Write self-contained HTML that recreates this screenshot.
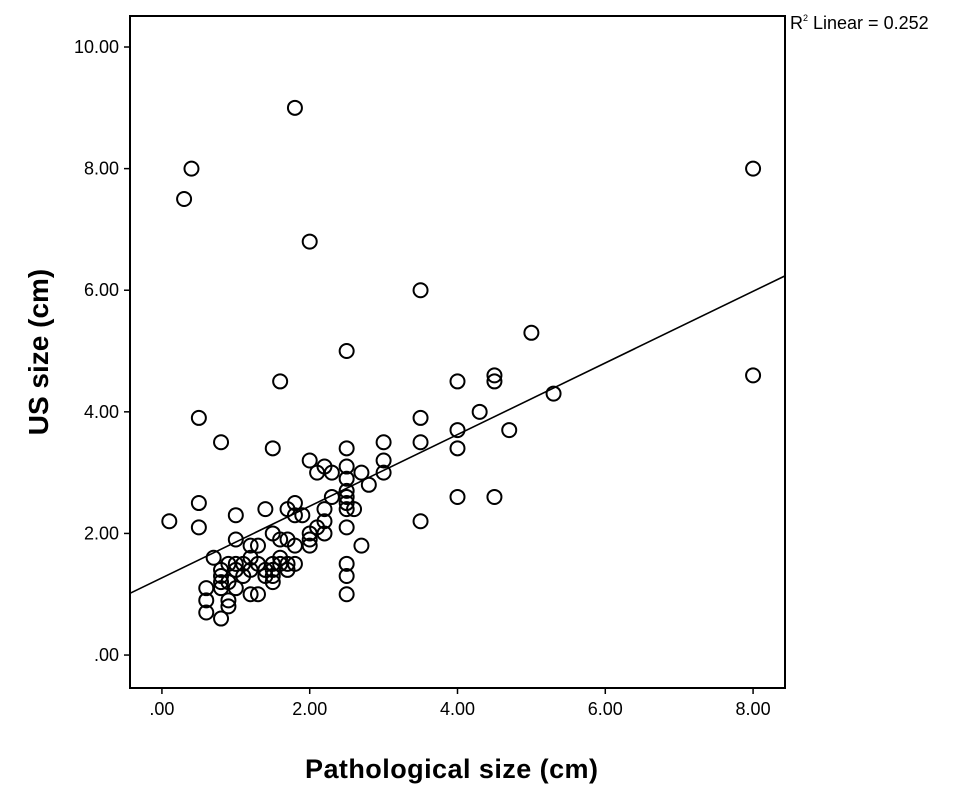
<!DOCTYPE html>
<html><head><meta charset="utf-8"><style>
body{margin:0;background:#fff}
svg{display:block;font-family:"Liberation Sans",Arial,sans-serif}
</style></head><body>
<svg id="chart" width="969" height="795" viewBox="0 0 969 795">
<rect x="130" y="16" width="655" height="672" fill="#fff" stroke="#000" stroke-width="2"/>
<g id="axes"></g><g id="fit"></g><g id="pts"></g>
<text x="305" y="778" font-size="27" font-weight="bold" textLength="293">Pathological size (cm)</text>
<text transform="translate(48,352) rotate(-90)" text-anchor="middle" font-size="28" font-weight="bold">US size (cm)</text>
<text x="790" y="29" font-size="18">R<tspan font-size="9" dy="-8">2</tspan><tspan dy="8"> Linear = 0.252</tspan></text>
</svg>
<script>
const xTicks=[0,2,4,6,8];
const xTickLabels=[".00","2.00","4.00","6.00","8.00"];
const yTicks=[0,2,4,6,8,10];
const yTickLabels=[".00","2.00","4.00","6.00","8.00","10.00"];
const pathSize=[0.1,0.3,0.4,0.5,0.5,0.5,0.8,1.8,2.0,3.5,2.5,1.6,1.5,5.0,4.5,4.5,4.0,5.3,4.3,4.7,4.0,4.0,3.5,3.5,3.0,3.0,3.0,2.5,2.5,2.5,2.5,2.5,2.5,2.5,2.5,2.5,2.5,2.5,2.7,2.8,2.7,2.6,2.3,2.2,2.0,2.1,2.3,2.2,2.2,2.1,2.0,2.0,2.0,2.2,1.8,1.8,1.7,1.9,1.4,1.0,1.0,1.5,1.6,1.7,1.8,1.8,1.7,1.6,1.5,1.5,1.5,1.5,1.4,1.3,1.2,1.3,1.2,1.1,1.0,0.9,0.8,0.8,0.7,0.9,1.0,1.1,1.2,1.3,0.9,0.9,0.8,0.6,0.6,0.6,0.8,3.5,4.0,4.5,8.0,8.0,1.4,1.6,1.0,0.8,1.7,1.2];
const usSize=[2.2,7.5,8.0,3.9,2.5,2.1,3.5,9.0,6.8,6.0,5.0,4.5,3.4,5.3,4.6,4.5,4.5,4.3,4.0,3.7,3.7,3.4,3.9,3.5,3.5,3.2,3.0,3.4,3.1,2.9,2.7,2.6,2.5,2.4,2.1,1.5,1.3,1.0,1.8,2.8,3.0,2.4,3.0,3.1,3.2,3.0,2.6,2.4,2.2,2.1,2.0,1.9,1.8,2.0,2.5,2.3,2.4,2.3,2.4,2.3,1.9,2.0,1.9,1.9,1.8,1.5,1.5,1.6,1.5,1.4,1.3,1.2,1.4,1.8,1.8,1.5,1.6,1.5,1.4,1.5,1.4,1.3,1.6,1.2,1.1,1.3,1.0,1.0,0.9,0.8,0.6,0.7,0.9,1.1,1.1,2.2,2.6,2.6,8.0,4.6,1.3,1.5,1.5,1.2,1.4,1.4];
const fitIntercept=[1.27];
const fitSlope=[0.589];
const NS="http://www.w3.org/2000/svg";
const X0=-0.432,X1=8.432,Y0=-0.542,Y1=10.51;
const sx=v=>130+(v-X0)/(X1-X0)*655;
const sy=v=>688-(v-Y0)/(Y1-Y0)*672;
function mk(tag,attrs,parent){const e=document.createElementNS(NS,tag);for(const k in attrs)e.setAttribute(k,attrs[k]);parent.appendChild(e);return e;}
const ax=document.getElementById('axes');
xTicks.forEach((t,i)=>{
 const l=mk('line',{x1:sx(t),x2:sx(t),y1:688,y2:694,stroke:'#000','stroke-width':1.5},ax);
 
 
 const tx=mk('text',{x:sx(t),y:715,'text-anchor':'middle','font-size':18},ax);
 tx.textContent=xTickLabels[i];
 
 
});
yTicks.forEach((t,i)=>{
 const l=mk('line',{x1:124,x2:130,y1:sy(t),y2:sy(t),stroke:'#000','stroke-width':1.5},ax);
 
 
 const tx=mk('text',{x:119,y:sy(t)+6,'text-anchor':'end','font-size':18},ax);
 tx.textContent=yTickLabels[i];
 
 
});
const fl=mk('line',{x1:sx(X0),y1:sy(fitIntercept[0]+fitSlope[0]*X0),x2:sx(X1),y2:sy(fitIntercept[0]+fitSlope[0]*X1),stroke:'#000','stroke-width':1.6},document.getElementById('fit'));


const pg=document.getElementById('pts');
pathSize.forEach((v,i)=>{
 const c=mk('circle',{cx:sx(v),cy:sy(usSize[i]),r:7,fill:'none',stroke:'#000','stroke-width':2},pg);
 
 
});
</script>
</body></html>
